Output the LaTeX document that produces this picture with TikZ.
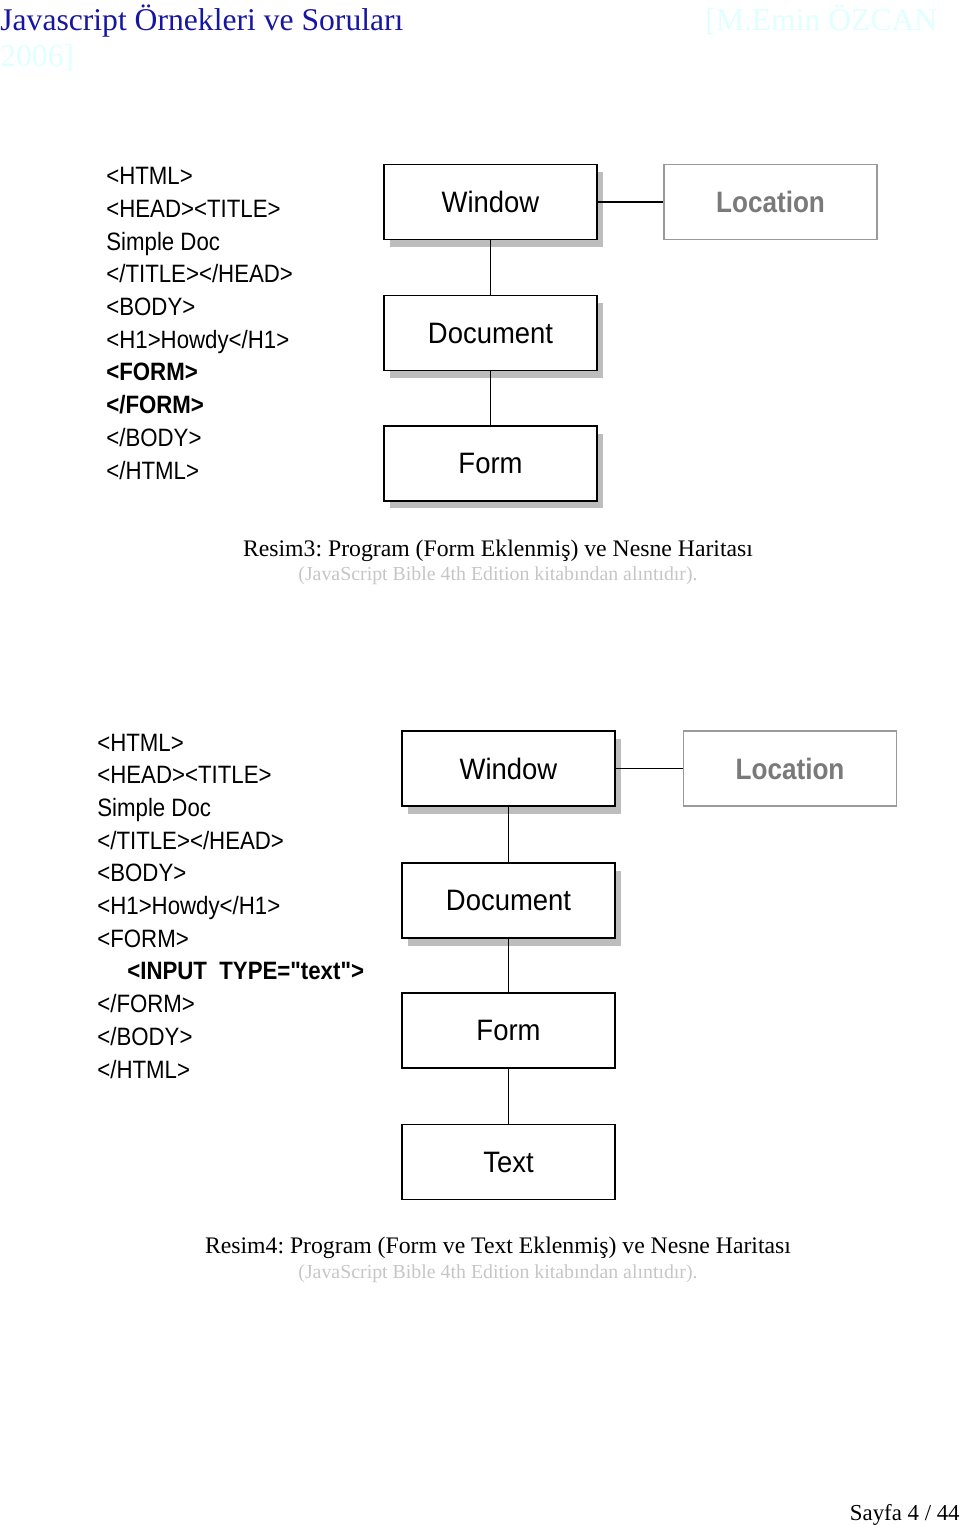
\documentclass[tikz,border=0pt]{standalone}
\usepackage{fontspec}
\setmainfont{Liberation Serif}
\newfontfamily\narrowsans[FakeStretch=0.93]{Liberation Sans}
\newfontfamily\narrowcode[FakeStretch=0.885]{Liberation Sans}
\usepackage{xcolor}
\definecolor{headblue}{HTML}{1616A2}
\definecolor{headcyan}{HTML}{E0FFFF}
\definecolor{shadegray}{HTML}{BDBDBD}
\definecolor{locline}{HTML}{9A9A9A}
\definecolor{loctext}{HTML}{7A7A7A}
\definecolor{notegray}{HTML}{C6C6C6}
\usetikzlibrary{shadows,positioning}
\frenchspacing

\begin{document}
\begin{tikzpicture}[x=0.02cm, y=-0.02cm,
      objbox/.style={rectangle, draw=black, fill=white, line width=0.8pt, minimum width=4.26cm, minimum height=1.5cm, inner sep=0pt, font=\narrowsans\fontsize{16.8}{18}\selectfont},
      shbox/.style={objbox, drop shadow={shadow xshift=0.12cm, shadow yshift=-0.15cm, fill=shadegray, opacity=1}},
      locbox/.style={objbox, draw=locline, text=loctext, font=\narrowcode\bfseries\fontsize{16.8}{18}\selectfont},
      codetext/.style={align=left, inner sep=0pt, font=\narrowcode\fontsize{14.3}{18.6}\selectfont},
      captext/.style={inner sep=0pt, font=\fontsize{13.5}{15}\selectfont},
      notetext/.style={inner sep=0pt, text=notegray, font=\fontsize{11.3}{13}\selectfont},
      link/.style={draw=black, line width=0.75pt}
    ]
      \useasboundingbox (0,0) rectangle (960,1525);
      \node[anchor=base west, inner sep=0pt, text=headblue, font=\fontsize{18}{20}\selectfont] (head) at (0,30) {Javascript Örnekleri ve Soruları};
      \node[anchor=base west, inner sep=0pt, text=headcyan, font=\fontsize{18}{20}\selectfont] (auth) at (705,30) {[M.Emin ÖZCAN};
      \node[anchor=base west, inner sep=0pt, text=headcyan, font=\fontsize{18}{20}\selectfont] (year) at (0,66) {2006]};

      \node[codetext, anchor=base west] (code1) at (106,479) {<HTML>\\<HEAD><TITLE>\\Simple Doc\\</TITLE></HEAD>\\<BODY>\\<H1>Howdy</H1>\\\textbf{<FORM>}\\\textbf{</FORM>}\\</BODY>\\</HTML>};
      \node[shbox] (win1) at (490.5,202) {Window};
      \node[locbox] (loc1) at (770.5,202) {Location};
      \node[shbox] (doc1) at (490.5,333) {Document};
      \node[shbox] (form1) at (490.5,463.5) {Form};
      \draw[link] (win1) -- (loc1);
      \draw[link] (win1) -- (doc1);
      \draw[link] (doc1) -- (form1);
      \node[captext] (cap1) at (498,551) {Resim3: Program (Form Eklenmiş) ve Nesne Haritası};
      \node[notetext] (note1) at (498,576) {(JavaScript Bible 4th Edition kitabından alıntıdır).};

      \node[codetext, anchor=base west] (code2) at (97,1078) {<HTML>\\<HEAD><TITLE>\\Simple Doc\\</TITLE></HEAD>\\<BODY>\\<H1>Howdy</H1>\\<FORM>\\\hspace*{0.6cm}\textbf{<INPUT\ \ TYPE="text">}\\</FORM>\\</BODY>\\</HTML>};
      \node[shbox] (win2) at (508.5,768.5) {Window};
      \node[locbox] (loc2) at (790,768.5) {Location};
      \node[shbox] (doc2) at (508.5,900.5) {Document};
      \node[objbox] (form2) at (508.5,1030.5) {Form};
      \node[objbox] (text2) at (508.5,1162) {Text};
      \draw[link] (win2) -- (loc2);
      \draw[link] (win2) -- (doc2);
      \draw[link] (doc2) -- (form2);
      \draw[link] (form2) -- (text2);
      \node[captext] (cap2) at (498,1248) {Resim4: Program (Form ve Text Eklenmiş) ve Nesne Haritası};
      \node[notetext] (note2) at (498,1274) {(JavaScript Bible 4th Edition kitabından alıntıdır).};

      \node[anchor=base east, inner sep=0pt, font=\fontsize{13}{15}\selectfont] (page) at (960,1520) {Sayfa 4 / 44};
    \end{tikzpicture}
\end{document}
